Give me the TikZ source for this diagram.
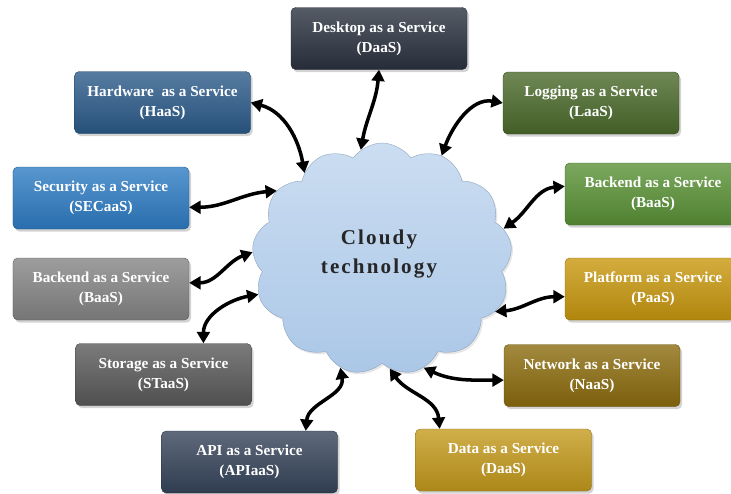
\documentclass[tikz,border=0pt]{standalone}
\usepackage{fontspec}
\setmainfont{Liberation Serif}
\newfontfamily\cloudfont[LetterSpace=10]{Liberation Serif}
\usetikzlibrary{shapes.symbols,shadows,arrows.meta}

\definecolor{deskcol}{HTML}{2B3340}
\definecolor{hardcol}{HTML}{2C5B8A}
\definecolor{logcol}{HTML}{4B6A2B}
\definecolor{seccol}{HTML}{2E7CC4}
\definecolor{backrcol}{HTML}{5A9236}
\definecolor{backlcol}{HTML}{858585}
\definecolor{platcol}{HTML}{C8980E}
\definecolor{storcol}{HTML}{5A5A5A}
\definecolor{netcol}{HTML}{8C6C0E}
\definecolor{apicol}{HTML}{36445A}
\definecolor{datacol}{HTML}{C49A1C}
\definecolor{cloudtop}{HTML}{CBDDF1}
\definecolor{cloudbot}{HTML}{ABC7E7}

\begin{document}
\begin{tikzpicture}[x=0.03cm,y=-0.03cm,
  svc/.style={rectangle, rounded corners=4pt, minimum width=5.28cm, minimum height=1.86cm,
    top color=#1!80!white, bottom color=#1!88!black, draw=#1!70!black, line width=0.3pt,
    drop shadow={opacity=0.35,shadow xshift=0.6mm,shadow yshift=-0.8mm},
    text=white, align=center, font=\bfseries\fontsize{13}{17}\selectfont},
  link/.style={{Triangle[length=3.4mm,width=3.8mm]}-{Triangle[length=3.4mm,width=3.8mm]},
    line width=3pt, black}]
\useasboundingbox (0,0) rectangle (731,493);

% the cloud
\node[cloud, cloud puffs=13, cloud puff arc=110, minimum width=7.8cm, minimum height=6.96cm,
  top color=cloudtop, bottom color=cloudbot, draw=cloudbot!80!black, line width=0.3pt,
  drop shadow={opacity=0.2,shadow xshift=0.5mm,shadow yshift=-0.6mm}] (cloud) at (382,259) {};
\node[align=center, font=\cloudfont\bfseries\fontsize{18}{25}\selectfont, text=black!85]
  (title) at (379,254) {Cloudy\\technology};

% services
\node[svc=deskcol]  (desk)  at (379,38.5)  {Desktop as a Service\\(DaaS)};
\node[svc=hardcol]  (hard)  at (162.5,102.5) {Hardware\ \ as a Service\\(HaaS)};
\node[svc=logcol]   (log)   at (591,103)   {Logging as a Service\\(LaaS)};
\node[svc=seccol]   (sec)   at (101,198)   {Security as a Service\\(SECaaS)};
\node[svc=backrcol] (backr) at (653,194)   {Backend as a Service\\(BaaS)};
\node[svc=backlcol] (backl) at (101,289)   {Backend as a Service\\(BaaS)};
\node[svc=platcol]  (plat)  at (653,289)   {Platform as a Service\\(PaaS)};
\node[svc=storcol]  (stor)  at (163.5,374.5) {Storage as a Service\\(STaaS)};
\node[svc=netcol]   (net)   at (592,375.5) {Network as a Service\\(NaaS)};
\node[svc=apicol]   (api)   at (249.5,462) {API as a Service\\(APIaaS)};
\node[svc=datacol]  (data)  at (503.5,460) {Data as a Service\\(DaaS)};

% links
\draw[link] (desk.south) to[out=-95,in=80] (cloud.101);
\draw[link] (hard.east) to[out=-15,in=100] (cloud.132);
\draw[link] (log.west) to[out=170,in=70] (cloud.60);
\draw[link] (sec.-6) to[out=0,in=185] (cloud.147);
\draw[link] (backr.175) to[out=185,in=35] (cloud.14);
\draw[link] (backl.4) to[out=0,in=200] (cloud.177);
\draw[link] (plat.185) to[out=180,in=5] (cloud.-25);
\draw[link] (stor.38) to[out=90,in=190] (cloud.196);
\draw[link] (net.183) to[out=180,in=-25] (cloud.-69);
\draw[link] (api.29) to[out=85,in=-80] (cloud.249);
\draw[link] (data.154) to[out=95,in=-55] (cloud.274);
\end{tikzpicture}
\end{document}
